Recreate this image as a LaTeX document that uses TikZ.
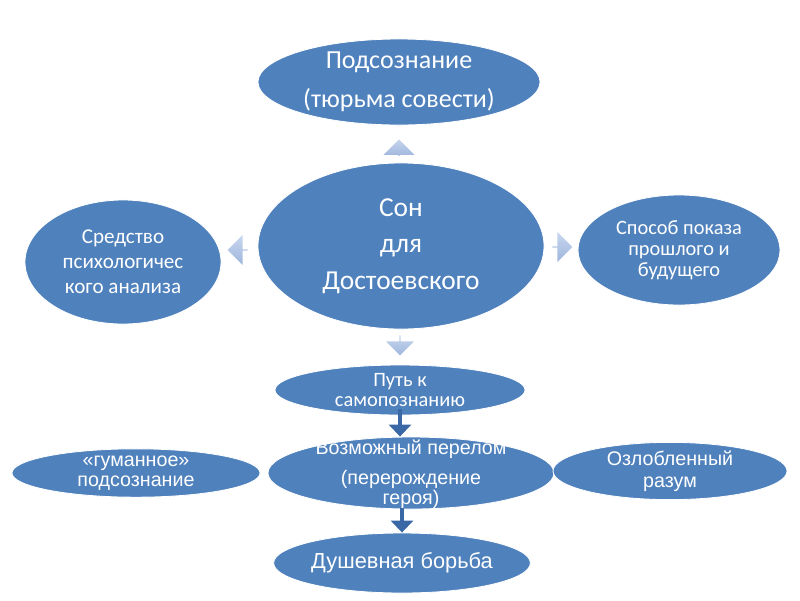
\documentclass[tikz,border=0pt]{standalone}
\usepackage{fontspec}
\setmainfont{Carlito}
\newfontfamily\arialfont{Liberation Sans}
\usetikzlibrary{arrows.meta,shapes.geometric,shapes.arrows}
\definecolor{ovalblue}{HTML}{4F81BD}
\definecolor{linkblue}{HTML}{3A67A6}
\definecolor{blockhi}{HTML}{C8D6EE}
\definecolor{blocklo}{HTML}{9FB6DD}
\tikzset{
  oval/.style={ellipse,fill=ovalblue,draw=white,line width=.6pt,inner sep=0pt,align=center,text=white},
  blockarrow/.style={single arrow,single arrow head extend=1.8mm,inner sep=0pt,
    top color=blockhi,bottom color=blocklo,draw=none,shading angle=0},
  link/.style={-{Triangle[width=5.5mm,length=3mm]},line width=2.2pt,linkblue}
}
\begin{document}
\begin{tikzpicture}[x=0.025cm,y=-0.025cm]
  \useasboundingbox (0,0) rectangle (800,600);

  \node[oval,minimum width=7.05cm,minimum height=2.15cm,font=\fontsize{18.5}{28}\selectfont] (podsoz) at (399,82)
    {Подсознание\\(тюрьма совести)};
  \node[oval,minimum width=7.15cm,minimum height=4.15cm,font=\fontsize{19.5}{26}\selectfont] (son) at (401,246)
    {Сон\\для\\Достоевского};
  \node[oval,minimum width=4.9cm,minimum height=3.1cm,font=\fontsize{15}{17.7}\selectfont] (sredstvo) at (123,262)
    {Средство\\психологичес\\кого анализа};
  \node[oval,minimum width=5.05cm,minimum height=2.75cm,font=\fontsize{14.5}{15}\selectfont] (sposob) at (679,250)
    {Способ показа\\прошлого и\\будущего};

  \node[oval,minimum width=6.25cm,minimum height=1.25cm,font=\fontsize{14.5}{14}\selectfont] (put) at (400,390)
    {Путь к\\самопознанию};
  % text runs over the oval's rim here, as in the slide
  \node[oval,minimum width=7.15cm,minimum height=1.8cm,font=\arialfont\fontsize{14}{13}\selectfont] (perelom) at (411,473)
    {\smash{\raisebox{-5pt}{\begin{tabular}{@{}c@{}}Возможный перелом\\[7.5pt](перерождение\\героя)\end{tabular}}}};
  \node[oval,minimum width=6.2cm,minimum height=1.2cm,font=\arialfont\fontsize{14}{14}\selectfont] (gumannoe) at (136,473)
    {«гуманное»\\подсознание};
  \node[oval,minimum width=5.85cm,minimum height=1.2cm,font=\arialfont\fontsize{14}{15.5}\selectfont] (zloba) at (670,471)
    {Озлобленный\\разум};
  \node[oval,minimum width=6.4cm,minimum height=1.5cm,font=\arialfont\fontsize{15.5}{17}\selectfont] (borba) at (402,563)
    {Душевная борьба};

  % block arrows round the dream
  \node[blockarrow,shape border rotate=90,minimum height=0.42cm,minimum width=0.78cm] (upar) at (399,148) {};
  \node[blockarrow,shape border rotate=180,minimum height=0.5cm,minimum width=0.74cm] (leftar) at (238,250) {};
  \node[blockarrow,shape border rotate=0,minimum height=0.5cm,minimum width=0.74cm] (rightar) at (562,247) {};
  \node[blockarrow,shape border rotate=270,minimum height=0.5cm,minimum width=0.7cm] (downar) at (400,345) {};

  \draw[link] ([yshift=1.5mm]put.south) -- (put.south |- perelom.north);
  \draw[link] ([yshift=0.3mm]perelom.south -| borba.north) -- (borba.north);
\end{tikzpicture}
\end{document}
